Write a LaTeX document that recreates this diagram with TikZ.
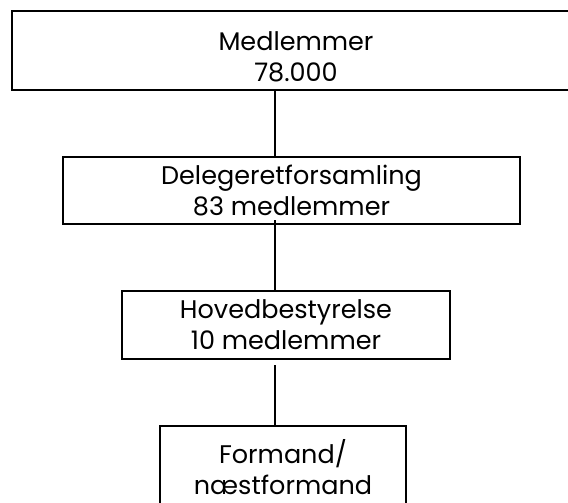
\documentclass[tikz,border=0pt]{standalone}
\usepackage{fontspec}
\setmainfont{Poppins}
\usepackage{tikz}
\usetikzlibrary{positioning, calc}

\begin{document}
\begin{tikzpicture}[
    x=1pt, y=1pt,
    orgbox/.style={
        draw,
        line width=2.4pt,
        align=center,
        inner sep=0pt,
        font=\fontsize{25.5}{31}\selectfont
    },
    link/.style={line width=2.4pt}
]
\useasboundingbox (0,0) rectangle (568,503);

% ===== bokse =====
\node[orgbox, minimum width=568, minimum height=79] (medlem) at (296,452.5)
    {\rule{0pt}{32pt}Medlemmer\\78.000};
\node[orgbox, minimum width=457, minimum height=67] (delegeret) at (291.5,312.5)
    {Delegeretforsamling\\83 medlemmer};
\node[orgbox, minimum width=328, minimum height=68] (hoved) at (286,178)
    {Hovedbestyrelse\\10 medlemmer};
\node[orgbox, minimum width=246, minimum height=82] (formand) at (283,36)
    {Formand/\\næstformand};

% ===== forbindelser =====
\coordinate (spine) at (275,0);
\draw[link] (medlem.south -| spine) -- (delegeret.north -| spine);
\draw[link] ($(delegeret.south -| spine)+(0,5)$) -- (hoved.north -| spine);
\draw[link] ($(hoved.south -| spine)+(0,-5)$) -- (formand.north -| spine);

\end{tikzpicture}
\end{document}
